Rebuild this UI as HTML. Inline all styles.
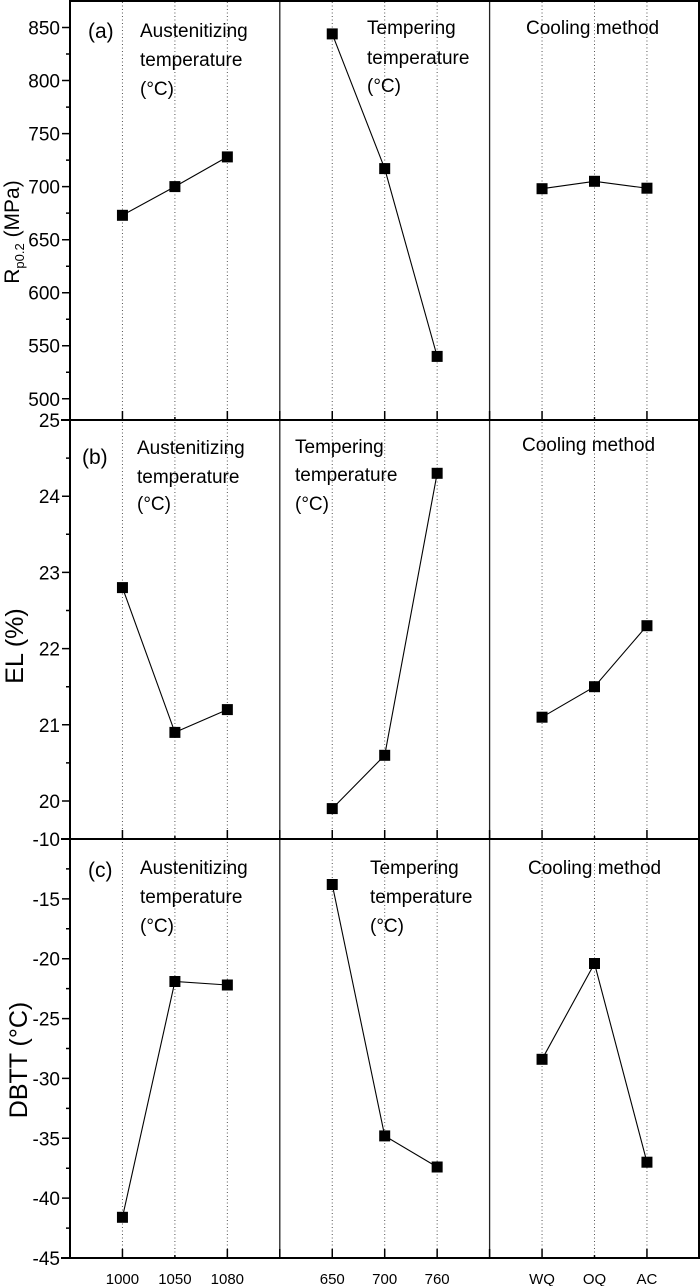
<!DOCTYPE html>
<html><head><meta charset="utf-8"><style>
html,body{margin:0;padding:0;background:#fff;}
svg{display:block;}
text{font-family:"Liberation Sans",Arial,sans-serif;fill:#000;}
</style></head><body>
<svg width="700" height="1286" viewBox="0 0 700 1286" xmlns="http://www.w3.org/2000/svg">
<rect width="700" height="1286" fill="#fff"/>
<!-- dotted grid -->
<g stroke="#555" stroke-width="1" stroke-dasharray="1,2.5">
<line x1="122.45" y1="2" x2="122.45" y2="1258"/>
<line x1="174.9" y1="2" x2="174.9" y2="1258"/>
<line x1="227.35" y1="2" x2="227.35" y2="1258"/>
<line x1="332.25" y1="2" x2="332.25" y2="1258"/>
<line x1="384.7" y1="2" x2="384.7" y2="1258"/>
<line x1="437.15" y1="2" x2="437.15" y2="1258"/>
<line x1="542.05" y1="2" x2="542.05" y2="1258"/>
<line x1="594.5" y1="2" x2="594.5" y2="1258"/>
<line x1="646.95" y1="2" x2="646.95" y2="1258"/>
</g>
<!-- dividers -->
<g stroke="#222" stroke-width="1.3">
<line x1="279.8" y1="0" x2="279.8" y2="1258"/>
<line x1="489.6" y1="0" x2="489.6" y2="1258"/>
</g>
<!-- frame -->
<g stroke="#000" stroke-width="2" fill="none">
<line x1="70" y1="0" x2="70" y2="1259"/>
<line x1="69" y1="1" x2="700" y2="1"/>
<line x1="699" y1="0" x2="699" y2="1259"/>
<line x1="61" y1="420" x2="700" y2="420"/>
<line x1="61" y1="839" x2="700" y2="839"/>
<line x1="61" y1="1258" x2="700" y2="1258"/>
</g>
<!-- bottom ticks (inward) -->
<g stroke="#000" stroke-width="1.5">
<path d="M122.45 420v-9M174.9 420v-3M227.35 420v-9M279.8 420v-9M332.25 420v-9M384.7 420v-9M437.15 420v-9M489.6 420v-9M542.05 420v-9M594.5 420v-3M646.95 420v-9"/>
<path d="M122.45 839v-9M174.9 839v-3M227.35 839v-9M279.8 839v-9M332.25 839v-9M384.7 839v-9M437.15 839v-9M489.6 839v-9M542.05 839v-9M594.5 839v-3M646.95 839v-9"/>
<path d="M122.45 1258v-9M174.9 1258v-3M227.35 1258v-9M279.8 1258v-9M332.25 1258v-9M384.7 1258v-9M437.15 1258v-9M489.6 1258v-9M542.05 1258v-9M594.5 1258v-3M646.95 1258v-9"/>
</g>
<!-- left major ticks -->
<g stroke="#000" stroke-width="1.5">
<path d="M62 398.8h8M62 345.7h8M62 292.7h8M62 239.7h8M62 186.6h8M62 133.6h8M62 80.5h8M62 27.5h8"/>
<path d="M66 372.3h4M66 319.2h4M66 266.2h4M66 213.1h4M66 160.1h4M66 107.1h4M66 54h4"/>
<path d="M62 496.2h8M62 572.4h8M62 648.6h8M62 724.8h8M62 801h8"/>
<path d="M66 458.1h4M66 534.3h4M66 610.5h4M66 686.7h4M66 762.9h4"/>
<path d="M62 898.9h8M62 958.7h8M62 1018.6h8M62 1078.4h8M62 1138.3h8M62 1198.1h8"/>
<path d="M66 868.9h4M66 928.8h4M66 988.6h4M66 1048.5h4M66 1108.4h4M66 1168.2h4M66 1228.1h4"/>
</g>
<!-- left tick labels -->
<g font-size="19" text-anchor="end">
<text x="60" y="405.8">500</text>
<text x="60" y="352.7">550</text>
<text x="60" y="299.7">600</text>
<text x="60" y="246.7">650</text>
<text x="60" y="193.6">700</text>
<text x="60" y="140.6">750</text>
<text x="60" y="87.5">800</text>
<text x="60" y="34.5">850</text>
<text x="60" y="427">25</text>
<text x="60" y="503.2">24</text>
<text x="60" y="579.4">23</text>
<text x="60" y="655.6">22</text>
<text x="60" y="731.8">21</text>
<text x="60" y="808">20</text>
<text x="60" y="846">-10</text>
<text x="60" y="905.9">-15</text>
<text x="60" y="965.7">-20</text>
<text x="60" y="1025.6">-25</text>
<text x="60" y="1085.4">-30</text>
<text x="60" y="1145.3">-35</text>
<text x="60" y="1205.1">-40</text>
<text x="60" y="1265">-45</text>
</g>
<!-- bottom labels -->
<g font-size="15" text-anchor="middle">
<text x="122.45" y="1284">1000</text>
<text x="174.9" y="1284">1050</text>
<text x="227.35" y="1284">1080</text>
<text x="332.25" y="1284">650</text>
<text x="384.7" y="1284">700</text>
<text x="437.15" y="1284">760</text>
<text x="542.05" y="1284">WQ</text>
<text x="594.5" y="1284">OQ</text>
<text x="646.95" y="1284">AC</text>
</g>
<!-- axis titles -->
<text x="19" y="232" font-size="21" text-anchor="middle" transform="rotate(-90 19 232)">R<tspan font-size="13" dy="5">p0.2</tspan><tspan dy="-5"> (MPa)</tspan></text>
<text x="23" y="646" font-size="25" text-anchor="middle" transform="rotate(-90 23 646)">EL (%)</text>
<text x="27" y="1060" font-size="25" text-anchor="middle" transform="rotate(-90 27 1060)">DBTT (°C)</text>
<!-- annotations -->
<g font-size="19">
<text x="88" y="38" font-size="21">(a)</text>
<text x="140" y="37">Austenitizing</text>
<text x="140" y="66">temperature</text>
<text x="140" y="95">(°C)</text>
<text x="367" y="34">Tempering</text>
<text x="367" y="64">temperature</text>
<text x="367" y="92">(°C)</text>
<text x="526" y="34">Cooling method</text>

<text x="82" y="464" font-size="21">(b)</text>
<text x="137" y="454">Austenitizing</text>
<text x="137" y="483">temperature</text>
<text x="137" y="510">(°C)</text>
<text x="295" y="453">Tempering</text>
<text x="295" y="481">temperature</text>
<text x="295" y="510">(°C)</text>
<text x="522" y="451">Cooling method</text>

<text x="88" y="877" font-size="21">(c)</text>
<text x="140" y="874">Austenitizing</text>
<text x="140" y="903">temperature</text>
<text x="140" y="932">(°C)</text>
<text x="370" y="874">Tempering</text>
<text x="370" y="903">temperature</text>
<text x="370" y="932">(°C)</text>
<text x="528" y="874">Cooling method</text>
</g>
<!-- series lines -->
<g stroke="#000" stroke-width="1.1" fill="none">
<polyline points="122.45,215.3 174.9,186.6 227.35,156.9"/>
<polyline points="332.25,33.9 384.7,168.6 437.15,356.4"/>
<polyline points="542.05,188.7 594.5,181.3 646.95,188.2"/>
<polyline points="122.45,587.6 174.9,732.4 227.35,709.6"/>
<polyline points="332.25,808.6 384.7,755.3 437.15,473.3"/>
<polyline points="542.05,717.2 594.5,686.7 646.95,625.7"/>
<polyline points="122.45,1217.3 174.9,981.5 227.35,985"/>
<polyline points="332.25,884.5 384.7,1135.9 437.15,1167"/>
<polyline points="542.05,1059.3 594.5,963.5 646.95,1162.2"/>
</g>
<!-- markers -->
<g fill="#000">
<rect x="116.95" y="209.8" width="11" height="11"/>
<rect x="169.4" y="181.1" width="11" height="11"/>
<rect x="221.85" y="151.4" width="11" height="11"/>
<rect x="326.75" y="28.4" width="11" height="11"/>
<rect x="379.2" y="163.1" width="11" height="11"/>
<rect x="431.65" y="350.9" width="11" height="11"/>
<rect x="536.55" y="183.2" width="11" height="11"/>
<rect x="589" y="175.8" width="11" height="11"/>
<rect x="641.45" y="182.7" width="11" height="11"/>

<rect x="116.95" y="582.1" width="11" height="11"/>
<rect x="169.4" y="726.9" width="11" height="11"/>
<rect x="221.85" y="704.1" width="11" height="11"/>
<rect x="326.75" y="803.1" width="11" height="11"/>
<rect x="379.2" y="749.8" width="11" height="11"/>
<rect x="431.65" y="467.8" width="11" height="11"/>
<rect x="536.55" y="711.7" width="11" height="11"/>
<rect x="589" y="681.2" width="11" height="11"/>
<rect x="641.45" y="620.2" width="11" height="11"/>

<rect x="116.95" y="1211.8" width="11" height="11"/>
<rect x="169.4" y="976" width="11" height="11"/>
<rect x="221.85" y="979.5" width="11" height="11"/>
<rect x="326.75" y="879" width="11" height="11"/>
<rect x="379.2" y="1130.4" width="11" height="11"/>
<rect x="431.65" y="1161.5" width="11" height="11"/>
<rect x="536.55" y="1053.8" width="11" height="11"/>
<rect x="589" y="958" width="11" height="11"/>
<rect x="641.45" y="1156.7" width="11" height="11"/>
</g>
</svg>
</body></html>
